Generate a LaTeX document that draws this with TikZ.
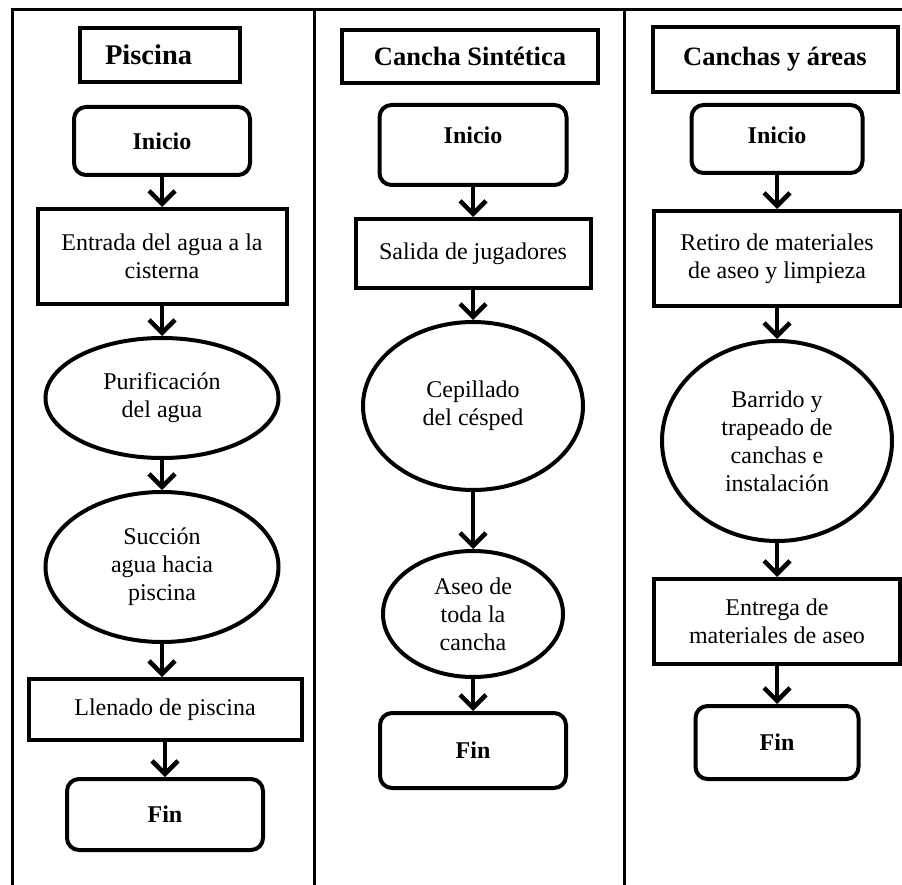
\documentclass[tikz,border=0pt]{standalone}
\usepackage{fontspec}
\setmainfont{Liberation Serif}
\usetikzlibrary{arrows.meta, positioning, shapes.geometric, shadows}
\tikzset{
  marco/.style={draw=black, line width=3pt},
  cajaBase/.style={
    draw=black, line width=4pt, fill=white, align=center, inner sep=0pt,
    font=\fontsize{24}{28}\selectfont,
    drop shadow={shadow xshift=1.5pt, shadow yshift=-1.5pt, opacity=.25}
  },
  cajaTitulo/.style={cajaBase, rectangle, font=\fontsize{26.5}{30}\selectfont\bfseries},
  cajaInicio/.style={cajaBase, rectangle, rounded corners=12pt,
    font=\fontsize{24}{28}\selectfont\bfseries},
  cajaProceso/.style={cajaBase, rectangle},
  elipseProceso/.style={cajaBase, ellipse},
  flecha/.style={-{Straight Barb[length=13pt, width=26pt]}, line width=4.5pt},
}
\begin{document}
\begin{tikzpicture}[x=1pt, y=-1pt]
  \useasboundingbox (0,0) rectangle (902,885);
  \fill[white] (0,0) rectangle (902,885);

  % marco de las tres columnas
  \draw[marco] (12,885) -- (12,10) -- (902,10);
  \draw[marco] (314,10) -- (314,885);
  \draw[marco] (624,10) -- (624,885);

  % columna 1: piscina
  \node[cajaTitulo, minimum width=160pt, minimum height=54pt, text width=110pt, align=left,
    font=\fontsize{28.5}{32}\selectfont\bfseries] (tit1) at (160,55) {Piscina};
  \node[cajaInicio, minimum width=176pt, minimum height=68pt] (ini1) at (162,141) {Inicio};
  \node[cajaProceso, below=30pt of ini1, minimum width=249pt, minimum height=95pt] (ent1)
    {Entrada del agua a la\\cisterna};
  \node[elipseProceso, below=30pt of ent1, minimum width=233pt, minimum height=120pt] (pur1)
    {Purificación\\del agua};
  \node[elipseProceso, below=30pt of pur1, minimum width=233pt, minimum height=150pt] (suc1)
    {Succión\\agua hacia\\piscina};
  \node[cajaProceso, below=33pt of suc1, xshift=3pt, minimum width=273pt, minimum height=61pt] (lle1)
    {Llenado de piscina};
  \node[cajaInicio, below=35pt of lle1, minimum width=196pt, minimum height=71pt] (fin1) {Fin};

  \draw[flecha] (ini1) -- (ent1);
  \draw[flecha] (ent1) -- (pur1);
  \draw[flecha] (pur1) -- (suc1);
  \draw[flecha] (suc1.south) -- (suc1.south |- lle1.north);
  \draw[flecha] (lle1) -- (fin1);

  % columna 2: cancha sintetica
  \node[cajaTitulo, minimum width=256pt, minimum height=53pt] (tit2) at (470,56.5) {Cancha Sintética};
  \node[cajaInicio, minimum width=187pt, minimum height=80pt, text depth=20pt] (ini2) at (473,145) {Inicio};
  \node[cajaProceso, below=30pt of ini2, minimum width=235pt, minimum height=69pt] (sal2)
    {Salida de jugadores};
  \node[elipseProceso, below=30pt of sal2, minimum width=220pt, minimum height=168pt] (cep2)
    {Cepillado\\del césped};
  \node[elipseProceso, below=57pt of cep2, minimum width=180pt, minimum height=126pt] (ase2)
    {Aseo de\\toda la\\cancha};
  \node[cajaInicio, below=32pt of ase2, minimum width=186pt, minimum height=75pt] (fin2) {Fin};

  \draw[flecha] (ini2) -- (sal2);
  \draw[flecha] (sal2) -- (cep2);
  \draw[flecha] (cep2) -- (ase2);
  \draw[flecha] (ase2) -- (fin2);

  % columna 3: canchas y areas
  \node[cajaTitulo, minimum width=245pt, minimum height=65pt] (tit3) at (775,59.5) {Canchas y áreas};
  \node[cajaInicio, minimum width=171pt, minimum height=68pt, text depth=8pt] (ini3) at (777,139) {Inicio};
  \node[cajaProceso, below=34pt of ini3, minimum width=247pt, minimum height=95pt] (ret3)
    {Retiro de materiales\\de aseo y limpieza};
  \node[elipseProceso, below=31pt of ret3, minimum width=230pt, minimum height=200pt] (bar3)
    {Barrido y\\trapeado de\\canchas e\\instalación};
  \node[cajaProceso, below=34pt of bar3, minimum width=246pt, minimum height=85pt] (ent3)
    {Entrega de\\materiales de aseo};
  \node[cajaInicio, below=38pt of ent3, minimum width=163pt, minimum height=73pt] (fin3) {Fin};

  \draw[flecha] (ini3) -- (ret3);
  \draw[flecha] (ret3) -- (bar3);
  \draw[flecha] (bar3) -- (ent3);
  \draw[flecha] (ent3) -- (fin3);
\end{tikzpicture}
\end{document}
